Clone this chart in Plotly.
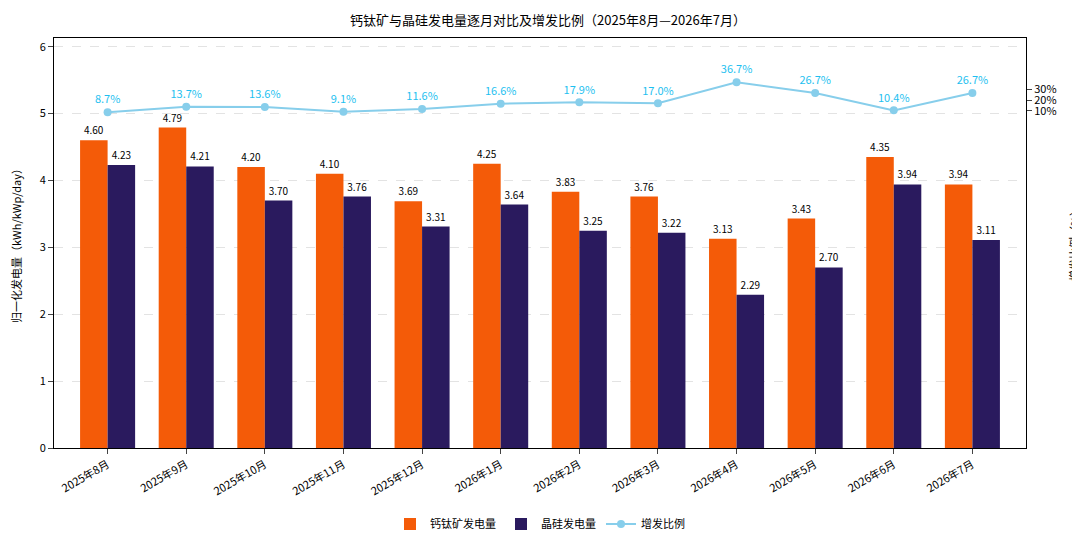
import plotly.graph_objects as go

MONTHS = ["2025年8月", "2025年9月", "2025年10月", "2025年11月", "2025年12月", "2026年1月",
          "2026年2月", "2026年3月", "2026年4月", "2026年5月", "2026年6月", "2026年7月"]
PEROVSKITE = [4.60, 4.79, 4.20, 4.10, 3.69, 4.25, 3.83, 3.76, 3.13, 3.43, 4.35, 3.94]
SILICON = [4.23, 4.21, 3.70, 3.76, 3.31, 3.64, 3.25, 3.22, 2.29, 2.70, 3.94, 3.11]
GAIN = [8.7, 13.7, 13.6, 9.1, 11.6, 16.6, 17.9, 17.0, 36.7, 26.7, 10.4, 26.7]
GAIN_TICKS = [10, 20, 30]

FONT = "Noto Sans CJK SC"

fig = go.Figure()
fig.add_trace(go.Bar(x=MONTHS, y=PEROVSKITE, name="钙钛矿发电量", marker_color="#F45B08",
                     marker_line_width=0,
                     text=[f"{v:.2f}" for v in PEROVSKITE], textposition="outside",
                     textfont=dict(size=10, color="black"), cliponaxis=False))
fig.add_trace(go.Bar(x=MONTHS, y=SILICON, name="晶硅发电量", marker_color="#2A1A5E",
                     marker_line_width=0,
                     text=[f"{v:.2f}" for v in SILICON], textposition="outside",
                     textfont=dict(size=10, color="black"), cliponaxis=False))
fig.add_trace(go.Scatter(x=MONTHS, y=GAIN, name="增发比例", yaxis="y2", mode="lines+markers+text",
                         line=dict(color="#87CEEB", width=2), marker=dict(size=8, color="#87CEEB"),
                         text=[f"{v:.1f}%" for v in GAIN], textposition="top center",
                         textfont=dict(size=11, color="#1EBFF0"), cliponaxis=False))

fig.update_layout(
    width=1080, height=540,
    font=dict(family=FONT, size=11, color="black"),
    title=dict(text="钙钛矿与晶硅发电量逐月对比及增发比例（2025年8月—2026年7月）",
               x=0.5, xanchor="center", y=0.985, yanchor="top", font=dict(size=13)),
    barmode="group", bargap=0.3, bargroupgap=0,
    plot_bgcolor="white", paper_bgcolor="white",
    margin=dict(l=46, r=62, t=30, b=100, autoexpand=False),
    xaxis=dict(tickangle=-30, showline=True, linecolor="black", mirror=True,
               ticks="outside", tickfont=dict(size=11), automargin=False),
    yaxis=dict(title=dict(text="归一化发电量（kWh/kWp/day）", font=dict(size=11)),
               range=[0, 6.13], dtick=1, showline=True, linecolor="black", ticks="outside",
               showgrid=True, gridcolor="#E3E3E3", griddash="dash", zeroline=False,
               automargin=False),
    yaxis2=dict(title=dict(text="增发比例（%）", font=dict(size=11)), overlaying="y", side="right",
                range=[-305, 78], tickvals=GAIN_TICKS, ticktext=[f"{v}%" for v in GAIN_TICKS],
                showgrid=False, showline=True, linecolor="black", ticks="outside",
                zeroline=False, automargin=False),
    legend=dict(orientation="h", x=0.5, xanchor="center", y=-0.15, yanchor="top",
                font=dict(size=11)),
)

fig.write_html("out.html")
